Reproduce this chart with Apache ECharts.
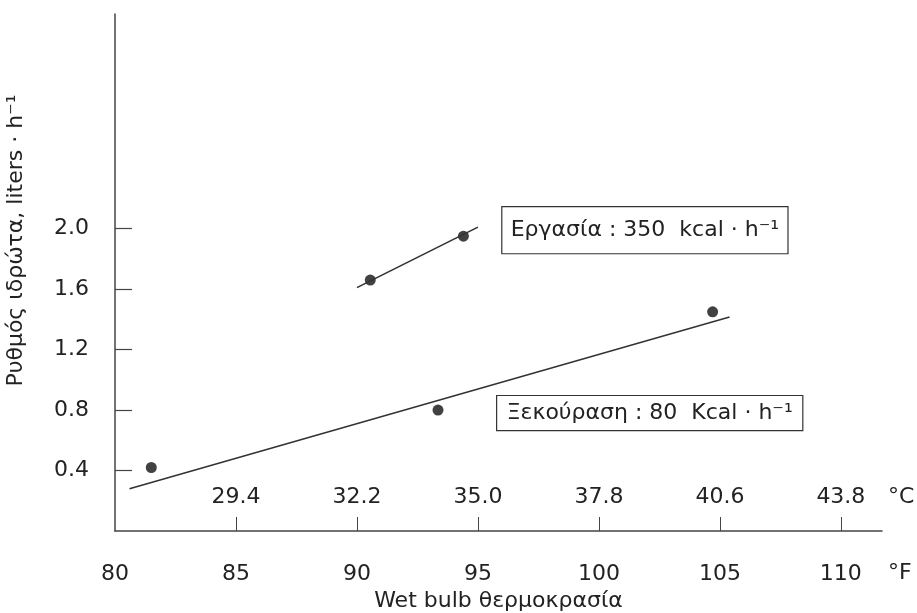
<!DOCTYPE html>
<html>
<head>
<meta charset="utf-8">
<script src="https://cdn.jsdelivr.net/npm/echarts@6/dist/echarts.min.js"></script>
<style>html,body{margin:0;padding:0;background:#fff;}#c{width:917px;height:613px;}</style>
</head>
<body>
<div id="c"></div>
<script>
// ---- data ----
const fahrenheitTicks = [80, 85, 90, 95, 100, 105, 110];
const celsiusTickPositions = [85, 90, 95, 100, 105, 110];
const celsiusLabels = ['29.4', '32.2', '35.0', '37.8', '40.6', '43.8'];
const yTicks = [0.4, 0.8, 1.2, 1.6, 2.0];
const restPoints = [[81.5, 0.42], [93.35, 0.80], [104.7, 1.45]];
const restFit = [[80.6, 0.28], [105.4, 1.415]];
const workPoints = [[90.55, 1.66], [94.4, 1.95]];
const workFit = [[90.0, 1.61], [95.0, 2.01]];
const workLabel = 'Εργασία : 350  kcal · h⁻¹';
const restLabel = 'Ξεκούραση : 80  Kcal · h⁻¹';
const workLabelAt = [101.9, 1.99];
const restLabelAt = [102.1, 0.78];

const FONT = 'DejaVu Sans';
const FS = 22;
const TXT = '#222';
const AX = '#444';

const chart = echarts.init(document.getElementById('c'));
const cMap = {};
celsiusTickPositions.forEach((v, i) => cMap[v] = celsiusLabels[i]);

chart.setOption({
  backgroundColor: '#fff',
  animation: false,
  textStyle: { fontFamily: FONT, color: TXT },
  grid: { left: 115, right: 35, top: 14, bottom: 82, containLabel: false, outerBoundsMode: 'none' },
  xAxis: [
    {
      type: 'value', min: 80, max: 111.7, position: 'bottom',
      name: 'Wet bulb θερμοκρασία', nameLocation: 'middle', nameGap: 57,
      nameTextStyle: { fontFamily: FONT, fontSize: FS, color: TXT },
      axisLine: { show: true, lineStyle: { color: AX, width: 1.5 } },
      axisTick: { show: true, inside: true, length: 14, customValues: celsiusTickPositions, lineStyle: { color: AX, width: 1 } },
      axisLabel: { customValues: fahrenheitTicks, margin: 32, fontSize: FS, color: TXT, fontFamily: FONT },
      splitLine: { show: false }
    },
    {
      type: 'value', min: 80, max: 111.7, position: 'bottom',
      name: '°F', nameLocation: 'end', nameGap: 6,
      nameTextStyle: { fontFamily: FONT, fontSize: FS, color: TXT, align: 'left', verticalAlign: 'top', padding: [31, 0, 0, 0] },
      axisLine: { show: false }, axisTick: { show: false }, axisLabel: { show: false }, splitLine: { show: false }
    },
    {
      type: 'value', min: 80, max: 111.7, position: 'bottom',
      name: '°C', nameLocation: 'end', nameGap: 6,
      nameTextStyle: { fontFamily: FONT, fontSize: FS, color: TXT, align: 'left', verticalAlign: 'bottom', padding: [0, 0, 23, 0] },
      axisLine: { show: false }, axisTick: { show: false },
      axisLabel: { inside: true, customValues: celsiusTickPositions, margin: 23, fontSize: FS, color: TXT, fontFamily: FONT,
        formatter: v => cMap[v] !== undefined ? cMap[v] : '' },
      splitLine: { show: false }
    }
  ],
  yAxis: {
    type: 'value', min: 0, max: 3.42,
    name: 'Ρυθμός ιδρώτα, liters · h⁻¹', nameLocation: 'middle', nameGap: 88, nameRotate: 90,
    nameTextStyle: { fontFamily: FONT, fontSize: FS, color: TXT, padding: [0, 0, 0, 64] },
    axisLine: { show: true, lineStyle: { color: AX, width: 1.5 } },
    axisTick: { show: true, inside: true, length: 17, customValues: yTicks, lineStyle: { color: AX, width: 1.2 } },
    axisLabel: { customValues: yTicks, margin: 26, fontSize: FS, color: TXT, fontFamily: FONT, formatter: v => v.toFixed(1) },
    splitLine: { show: false }
  },
  series: [
    { type: 'line', data: restFit, symbol: 'none', lineStyle: { color: '#333', width: 1.6 },
      markPoint: { symbol: 'rect', symbolSize: 0, data: [{ coord: restLabelAt, value: 0 }],
        label: { show: true, position: 'inside', formatter: restLabel, fontFamily: FONT, fontSize: FS, color: TXT,
          borderColor: '#333', borderWidth: 1.2, padding: [6, 4], backgroundColor: '#fff', width: 297, align: 'center' } } },
    { type: 'line', data: workFit, symbol: 'none', lineStyle: { color: '#333', width: 1.6 },
      markPoint: { symbol: 'rect', symbolSize: 0, data: [{ coord: workLabelAt, value: 0 }],
        label: { show: true, position: 'inside', formatter: workLabel, fontFamily: FONT, fontSize: FS, color: TXT,
          borderColor: '#333', borderWidth: 1.2, padding: [12, 4], backgroundColor: '#fff', width: 277, align: 'center' } } },
    { type: 'scatter', data: restPoints, symbolSize: 11, itemStyle: { color: '#111' } },
    { type: 'scatter', data: workPoints, symbolSize: 11, itemStyle: { color: '#111' } }
  ]
});
</script>
</body>
</html>
